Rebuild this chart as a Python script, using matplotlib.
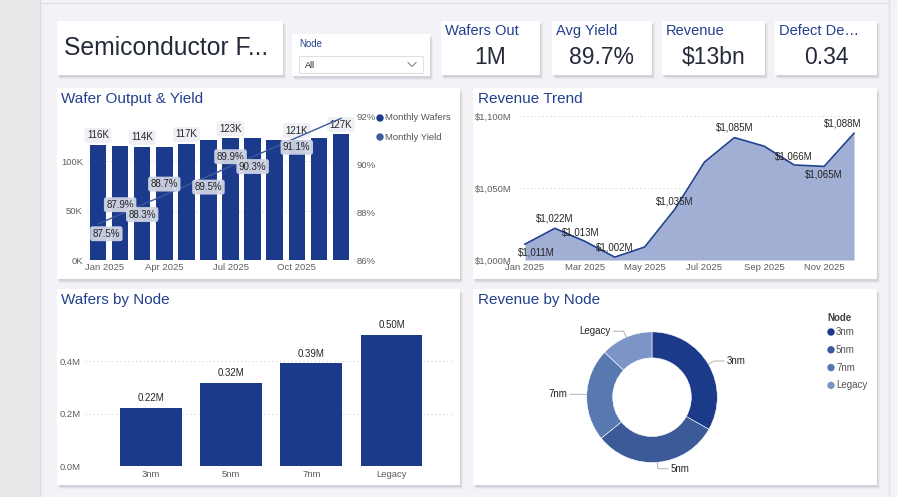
import numpy as np
import matplotlib
matplotlib.use("Agg")
import matplotlib.pyplot as plt
from matplotlib.patches import Rectangle, Circle
from matplotlib.transforms import ScaledTranslation

plt.rcParams['font.family'] = ['Liberation Sans', 'DejaVu Sans']

# ---- data ----
months = ['Jan 2025', 'Feb 2025', 'Mar 2025', 'Apr 2025', 'May 2025', 'Jun 2025',
          'Jul 2025', 'Aug 2025', 'Sep 2025', 'Oct 2025', 'Nov 2025', 'Dec 2025']
wafers_k = [116, 115, 114, 114, 117, 121, 123, 123, 121, 121, 123, 127]
yield_pct = [87.5, 87.9, 88.3, 88.7, 89.1, 89.5, 89.9, 90.3, 90.7, 91.1, 91.5, 91.9]
revenue_m = [1011, 1022, 1013, 1002, 1009, 1035, 1068, 1085, 1079, 1066, 1065, 1088]

nodes = ['3nm', '5nm', '7nm', 'Legacy']
node_wafers_k = [221, 318, 392, 501]
node_revenue_m = [4160, 3890, 2870, 1620]

kpi_titles = ['Wafers Out', 'Avg Yield', 'Revenue', 'Defect De\u2026']
kpi_values = ['1M', '89.7%', '$13bn', '0.34']

# ---- styling ----
W, H = 897, 497
DARK = '#1b3a8b'
MID = '#3d5a9c'
TITLE_C = '#23408e'
TICK_C = '#605e5c'
LABEL_C = '#252423'
GRID = dict(color='#d4d4d4', ls=(0, (1, 2.5)), lw=0.8, zorder=0)
node_colors = ['#1c3a8a', '#3c5a98', '#5878b0', '#7d95c6']

fig = plt.figure(figsize=(W / 100, H / 100), dpi=100)


def px_axes(x0, y0, x1, y1):
    return fig.add_axes([x0 / W, 1 - y1 / H, (x1 - x0) / W, (y1 - y0) / H])


bg = fig.add_axes([0, 0, 1, 1])
bg.set_xlim(0, W)
bg.set_ylim(H, 0)
bg.axis('off')
bg.add_patch(Rectangle((0, 0), W, H, color='#f3f3f7', zorder=0))
bg.add_patch(Rectangle((0, 0), 40, H, color='#e8e8eb', zorder=0))
bg.plot([40, 40], [0, H], color='#dcdce0', lw=1, zorder=1)
bg.plot([40, 889], [3, 3], color='#e2e2e6', lw=1, zorder=1)
bg.plot([889, 889], [0, H], color='#e2e2e6', lw=1, zorder=1)


def card(x0, y0, x1, y1):
    for i, a in enumerate([0.10, 0.14, 0.18]):
        off = 3 - i
        bg.add_patch(Rectangle((x0 + off, y0 + off + 1), x1 - x0, y1 - y0,
                               color='#9a9ca6', alpha=a, lw=0, zorder=2))
    bg.add_patch(Rectangle((x0, y0), x1 - x0, y1 - y0, color='white', lw=0, zorder=3))


# header cards
card(57, 21, 283, 75)
bg.text(64, 48, 'Semiconductor F...', fontsize=17.8, color='#252a3a', va='center', zorder=4)

card(292, 34, 430, 76)
bg.text(299, 44, 'Node', fontsize=7, color=TITLE_C, va='center', zorder=4)
bg.add_patch(Rectangle((299, 56), 124, 17, fc='white', ec='#e0e0e0', lw=0.8, zorder=4))
bg.text(305, 65, 'All', fontsize=6.5, color=LABEL_C, va='center', zorder=5)
bg.plot([408, 412, 416], [62.5, 66.5, 62.5], color='#888888', lw=0.8, zorder=5)

kpi_boxes = [(441, 540), (552, 652), (662, 765), (775, 877)]
for (x0, x1), t, v in zip(kpi_boxes, kpi_titles, kpi_values):
    card(x0, 21, x1, 75)
    bg.text(x0 + 4, 31, t, fontsize=10.5, color=TITLE_C, va='center', zorder=4)
    bg.text((x0 + x1) / 2, 58, v, fontsize=16.5, color='#252a3a', va='center',
            ha='center', zorder=4)

# panels
card(57, 88, 460, 279)
card(473, 88, 877, 279)
card(57, 289, 460, 485)
card(473, 289, 877, 485)
bg.text(61, 99, 'Wafer Output & Yield', fontsize=11, color=TITLE_C, va='center', zorder=4)
bg.text(478, 99, 'Revenue Trend', fontsize=11, color=TITLE_C, va='center', zorder=4)
bg.text(61, 300, 'Wafers by Node', fontsize=11, color=TITLE_C, va='center', zorder=4)
bg.text(478, 300, 'Revenue by Node', fontsize=11, color=TITLE_C, va='center', zorder=4)


def clean(ax):
    ax.set_facecolor('none')
    for s in ax.spines.values():
        s.set_visible(False)
    ax.tick_params(length=0, labelsize=6.8, labelcolor=TICK_C)


# ---- Wafer Output & Yield ----
x = np.arange(len(months))
ax1 = px_axes(87, 116, 352, 260)
clean(ax1)
ax1.bar(x, np.array(wafers_k) * 1000, width=0.75, color=DARK, zorder=2)
ax1.set_ylim(0, 145500)
ax1.set_xlim(-0.5, 11.5)
ax1.set_yticks([0, 50000, 100000])
ax1.set_yticklabels(['0K', '50K', '100K'])
ax1.tick_params(axis='y', pad=3)
ax1.set_xticks(x[::3])
ax1.set_xticklabels(months[::3])
ax1.tick_params(axis='x', pad=2)
first = ax1.get_xticklabels()[0]
first.set_transform(first.get_transform() + ScaledTranslation(7 / 100, 0, fig.dpi_scale_trans))
ax1.grid(axis='y', **GRID)
ax1.set_axisbelow(True)
for i in [0, 2, 4, 6, 9, 11]:
    ax1.annotate(f'{wafers_k[i]}K', (x[i], wafers_k[i] * 1000), xytext=(0, 7),
                 textcoords='offset points', ha='center', va='center', fontsize=7,
                 color=LABEL_C, zorder=5,
                 bbox=dict(boxstyle='round,pad=0.25', fc='#eef0f6', ec='none'))

ax1b = ax1.twinx()
clean(ax1b)
ax1b.plot(x, yield_pct, color=MID, lw=1.0, zorder=3)
ax1b.set_ylim(86, 92)
ax1b.set_yticks([86, 88, 90, 92])
ax1b.set_yticklabels(['86%', '88%', '90%', '92%'])
ax1b.tick_params(axis='y', pad=3)
yield_lbl = {0: (6, -7), 1: (0, 7), 2: (0, -7), 3: (0, 8), 5: (0, -8),
             6: (0, 7), 7: (0, -7), 9: (0, -7)}
for i, (dx, dy) in yield_lbl.items():
    ax1b.annotate(f'{yield_pct[i]:.1f}%', (x[i], yield_pct[i]), xytext=(dx, dy),
                  textcoords='offset points', ha='center', va='center', fontsize=7,
                  color=LABEL_C, zorder=6,
                  bbox=dict(boxstyle='round,pad=0.25', fc='#cfd4e4', ec='none', alpha=0.95))

bg.add_patch(Circle((380, 118), 3, color=DARK, zorder=5))
bg.text(385, 118, 'Monthly Wafers', fontsize=6.8, color='#555555', va='center', zorder=5)
bg.add_patch(Circle((380, 137), 3, color=MID, zorder=5))
bg.text(385, 137, 'Monthly Yield', fontsize=6.8, color='#555555', va='center', zorder=5)

# ---- Revenue Trend ----
ax2 = px_axes(519, 116, 857, 260)
clean(ax2)
ax2.fill_between(x, 1000, revenue_m, color='#a2afd4', lw=0, zorder=2)
ax2.plot(x, revenue_m, color='#22408f', lw=1.2, zorder=3)
ax2.set_ylim(1000, 1100)
ax2.set_xlim(-0.2, 11.1)
ax2.set_yticks([1000, 1050, 1100])
ax2.set_yticklabels(['$1,000M', '$1,050M', '$1,100M'])
ax2.tick_params(axis='y', pad=5)
ax2.set_xticks(x[::2])
ax2.set_xticklabels(months[::2])
ax2.tick_params(axis='x', pad=2)
ax2.grid(axis='y', **GRID)
ax2.set_axisbelow(True)
rev_lbl = {0: (8, -6), 1: (0, 7), 2: (-3, 6), 3: (0, 7), 5: (0, 6),
           7: (0, 7), 9: (0, 6), 10: (0, -6), 11: (-8, 7)}
for i, (dx, dy) in rev_lbl.items():
    ax2.annotate(f'${revenue_m[i]:,}M', (x[i], revenue_m[i]), xytext=(dx, dy),
                 textcoords='offset points', ha='center', va='center', fontsize=7,
                 color=LABEL_C, zorder=5)

# ---- Wafers by Node ----
xn = np.arange(len(nodes))
ax3 = px_axes(85, 309, 455, 466)
clean(ax3)
ax3.bar(xn, np.array(node_wafers_k) * 1000, width=0.77, color=DARK, zorder=2)
ax3.set_ylim(0, 600000)
ax3.set_xlim(-0.82, 3.79)
ax3.set_yticks([0, 200000, 400000])
ax3.set_yticklabels(['0.0M', '0.2M', '0.4M'])
ax3.tick_params(axis='y', pad=3)
ax3.set_xticks(xn)
ax3.set_xticklabels(nodes)
ax3.tick_params(axis='x', pad=3)
ax3.grid(axis='y', **GRID)
ax3.set_axisbelow(True)
for i, v in enumerate(node_wafers_k):
    ax3.annotate(f'{v / 1000:.2f}M', (xn[i], v * 1000), xytext=(0, 7),
                 textcoords='offset points', ha='center', va='center', fontsize=7,
                 color=LABEL_C)

# ---- Revenue by Node ----
R = 65.3
cx, cy = 652, 397.2
L = 110
ax4 = px_axes(cx - L, cy - L, cx + L, cy + L)
ax4.set_facecolor('none')
wedges, _ = ax4.pie(node_revenue_m, colors=node_colors, startangle=90,
                    counterclock=False, radius=1,
                    wedgeprops=dict(width=26 / R, edgecolor='white', linewidth=0.4))
ax4.set_xlim(-L / R, L / R)
ax4.set_ylim(-L / R, L / R)
ax4.axis('off')
for w, name in zip(wedges, nodes):
    ang = np.deg2rad((w.theta1 + w.theta2) / 2)
    p0 = np.array([np.cos(ang), np.sin(ang)])
    p1 = p0 * 1.1
    sgn = 1 if p0[0] >= 0 else -1
    p2 = p1 + np.array([sgn * 10 / R, 0])
    ax4.plot([p0[0], p1[0], p2[0]], [p0[1], p1[1], p2[1]], color='#b0b0b0', lw=0.7,
             clip_on=False)
    ax4.text(p2[0] + sgn * 3 / R, p2[1], name, fontsize=7, color=LABEL_C,
             ha='left' if sgn > 0 else 'right', va='center')

bg.text(827, 318, 'Node', fontsize=7, color='#404040', fontweight='bold', va='center', zorder=5)
for k, (name, c) in enumerate(zip(nodes, node_colors)):
    yy = 332 + k * 17.8
    bg.add_patch(Circle((831, yy), 3, color=c, zorder=5))
    bg.text(836, yy, name, fontsize=7, color='#555555', va='center', zorder=5)

fig.savefig('out.png', dpi=100)
